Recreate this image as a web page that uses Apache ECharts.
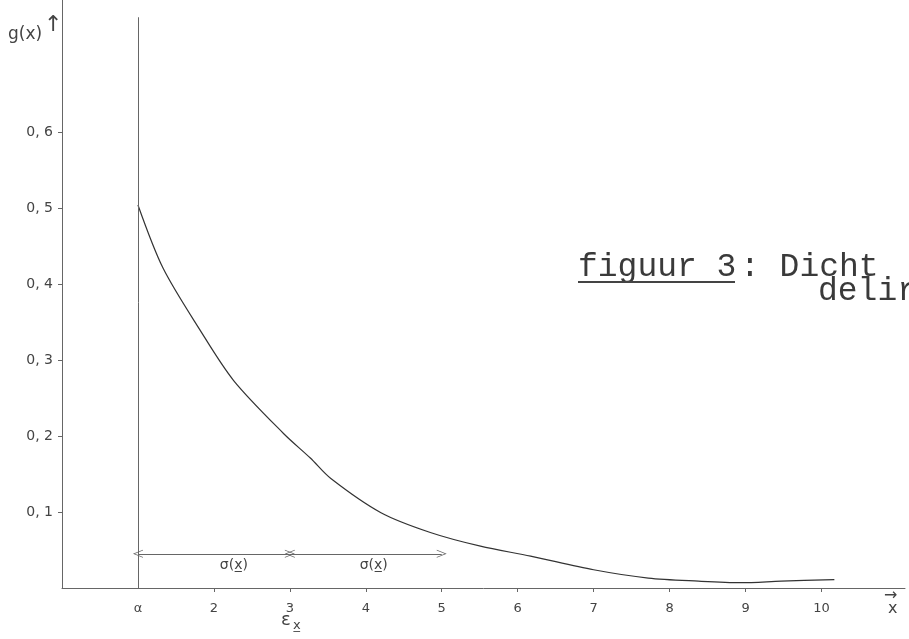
<!DOCTYPE html>
<html>
<head>
<meta charset="utf-8">
<script src="https://cdn.jsdelivr.net/npm/echarts@6/dist/echarts.min.js"></script>
<style>
html,body{margin:0;padding:0;background:#fff;}
#chart{width:909px;height:639px;}
</style>
</head>
<body>
<div id="chart"></div>
<script>
// x-waarden en dichtheid g(x)
var curveX = [1, 1.33, 1.82, 2.26, 2.92, 3.27, 3.54, 4.2, 4.85, 5.51, 6.17, 7.0, 7.72, 8.38, 8.94, 9.47, 10.17];
var curveY = [0.504, 0.421, 0.339, 0.273, 0.203, 0.171, 0.144, 0.099, 0.073, 0.055, 0.042, 0.024, 0.013, 0.009, 0.007, 0.009, 0.011];
// as-labels
var xTickValues = [2, 3, 4, 5, 6, 7, 8, 9, 10];
var xLabelValues = [1, 2, 3, 4, 5, 6, 7, 8, 9, 10];
var yTickValues = [0.1, 0.2, 0.3, 0.4, 0.5, 0.6];
// sigma-pijlen: [van, tot] op hoogte sigmaY
var sigmaRanges = [[1, 3], [3, 5]];
var sigmaY = 0.045;
var alphaX = 1;
var alphaTop = 0.751;

var ink = '#444';
var handFont = 'DejaVu Sans';
var monoFont = '33px "Liberation Mono"';
var chevron = 'path://M0,10 L5,0 L10,10 L9,10 L5,2 L1,10 Z';
var sigmaShift = [40, 16];

var curveData = [];
for (var i = 0; i < curveX.length; i++) {
    curveData.push([curveX[i], curveY[i]]);
}

var markData = [
    [{coord: [alphaX, 0], symbol: 'none'}, {coord: [alphaX, alphaTop], symbol: 'none'}]
];
for (var j = 0; j < sigmaRanges.length; j++) {
    markData.push([
        {coord: [sigmaRanges[j][0], sigmaY], symbol: chevron, symbolSize: [8, 10]},
        {coord: [sigmaRanges[j][1], sigmaY], symbol: chevron, symbolSize: [8, 10],
            label: {show: true, formatter: 'σ(x\u0332)', position: 'insideMiddleBottom',
                color: ink, fontFamily: handFont, fontSize: 14, distance: 5,
                padding: [0, 0, 0, sigmaShift[j]]}}
    ]);
}

var myChart = echarts.init(document.getElementById('chart'));

var option = {
    animation: false,
    backgroundColor: '#fff',
    grid: {left: 62, right: 4, top: 0, bottom: 51},
    xAxis: {
        type: 'value',
        min: 0,
        max: 11.1,
        axisLine: {lineStyle: {color: '#666', width: 1}},
        splitLine: {show: false},
        axisTick: {customValues: xTickValues, length: 4, lineStyle: {color: '#666'}},
        axisLabel: {
            customValues: xLabelValues,
            margin: 14,
            color: ink,
            fontFamily: handFont,
            fontSize: 13,
            formatter: function (v) { return v === 1 ? 'α' : String(v); }
        }
    },
    yAxis: {
        type: 'value',
        min: 0,
        max: 0.7737,
        axisLine: {show: true, lineStyle: {color: '#666', width: 1}},
        splitLine: {show: false},
        axisTick: {show: true, customValues: yTickValues, length: 4, lineStyle: {color: '#666'}},
        axisLabel: {
            customValues: yTickValues,
            margin: 9,
            color: ink,
            fontFamily: handFont,
            fontSize: 14,
            formatter: function (v) { return v.toFixed(1).replace('.', ', '); }
        }
    },
    series: [{
        type: 'line',
        data: curveData,
        smooth: 0.3,
        showSymbol: false,
        lineStyle: {color: '#333', width: 1.2},
        markLine: {
            silent: true,
            animation: false,
            lineStyle: {color: '#666', width: 1, type: 'solid'},
            label: {show: false},
            data: markData
        }
    }],
    graphic: [
        {type: 'text', left: 8, top: 26, style: {text: 'g(x)', fill: ink, font: '17px ' + handFont}},
        {type: 'text', left: 44, top: 14, style: {text: '↑', fill: ink, font: '22px ' + handFont}},
        {type: 'text', left: 884, top: 588, style: {text: '→', fill: ink, font: '16px ' + handFont}},
        {type: 'text', left: 888, top: 601, style: {text: 'x', fill: ink, font: '16px ' + handFont}},
        {type: 'text', left: 281, top: 611, style: {text: 'ε', fill: ink, font: '18px ' + handFont}},
        {type: 'text', left: 293, top: 619, style: {text: 'x\u0332', fill: ink, font: '13px ' + handFont}},
        {type: 'text', left: 578, top: 251, style: {text: 'figuur 3', fill: '#3a3a3a', font: monoFont}},
        {type: 'rect', left: 578, top: 281, shape: {width: 157, height: 2}, style: {fill: '#444'}},
        {type: 'text', left: 740, top: 251, style: {text: ': Dicht', fill: '#3a3a3a', font: monoFont}},
        {type: 'text', left: 818, top: 275, style: {text: 'delir', fill: '#3a3a3a', font: monoFont}}
    ]
};

myChart.setOption(option);
</script>
</body>
</html>
